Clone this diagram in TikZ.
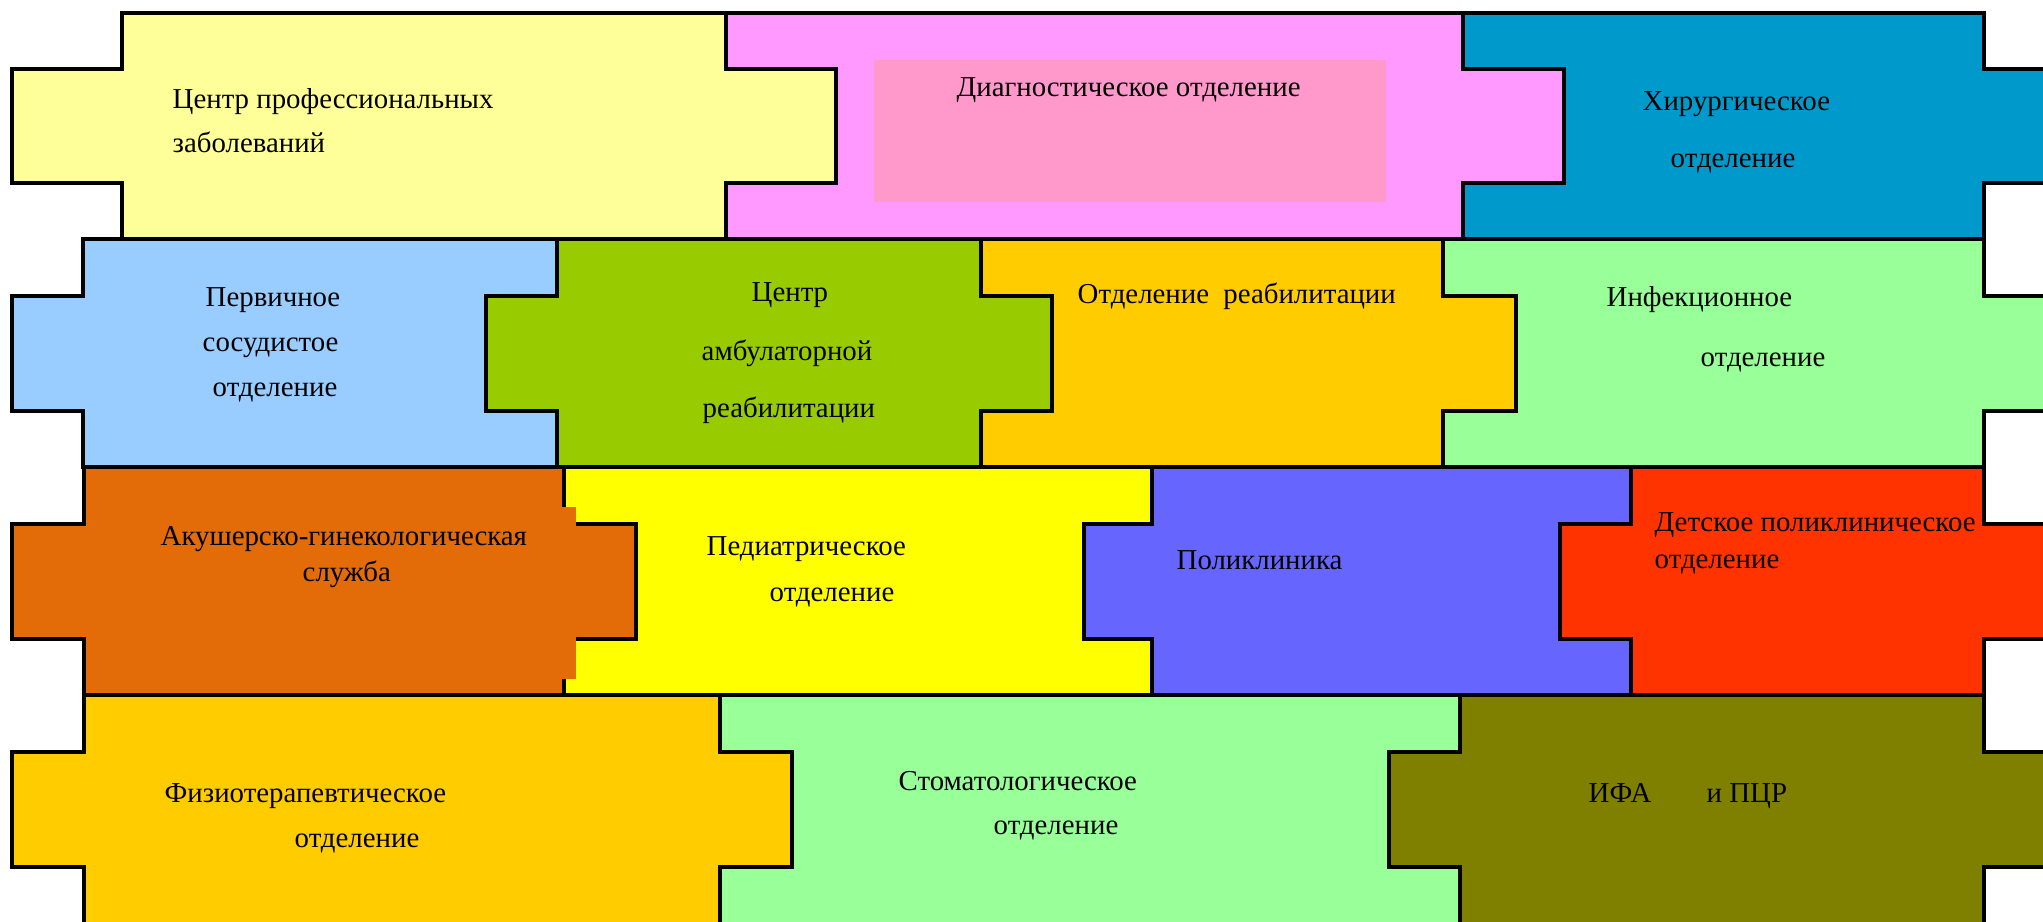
\documentclass[tikz,border=0pt]{standalone}
\usepackage{fontspec}
\setmainfont{Liberation Serif}
\usetikzlibrary{positioning}

\definecolor{profyellow}{HTML}{FFFF99}
\definecolor{diagpink}{HTML}{FF99FF}
\definecolor{diaginner}{HTML}{FF99CC}
\definecolor{surgblue}{HTML}{0099CC}
\definecolor{vascblue}{HTML}{99CCFF}
\definecolor{ambgreen}{HTML}{99CC00}
\definecolor{rehaborange}{HTML}{FFCC00}
\definecolor{infgreen}{HTML}{99FF99}
\definecolor{obstorange}{HTML}{E36C09}
\definecolor{pedyellow}{HTML}{FFFF00}
\definecolor{polyviolet}{HTML}{6666FF}
\definecolor{childred}{HTML}{FF3300}
\definecolor{labolive}{HTML}{808000}

\tikzset{
  piece/.style={draw=black, line width=1.3pt, line join=miter},
  lbl/.style={anchor=base west, inner sep=0pt, font=\fontsize{8.2}{10}\selectfont}
}

\begin{document}
\begin{tikzpicture}[x=0.01cm, y=-0.01cm]
\useasboundingbox (0,0) rectangle (2043,922);
\clip (0,0) rectangle (2043,922);
% row 1
\filldraw[piece, fill=profyellow](122,13) -- (726,13) -- (726,69) -- (836,69) -- (836,183) -- (726,183) -- (726,239) -- (122,239) -- (122,183) -- (12,183) -- (12,69) -- (122,69) -- cycle;
\filldraw[piece, fill=diagpink](726,13) -- (1463,13) -- (1463,69) -- (1564,69) -- (1564,183) -- (1463,183) -- (1463,239) -- (726,239) -- (726,183) -- (836,183) -- (836,69) -- (726,69) -- cycle;
\fill[diaginner](874,60) rectangle (1386,202);
\filldraw[piece, fill=surgblue](1463,13) -- (1984,13) -- (1984,69) -- (2100,69) -- (2100,183) -- (1984,183) -- (1984,239) -- (1463,239) -- (1463,183) -- (1564,183) -- (1564,69) -- (1463,69) -- cycle;
% row 2
\filldraw[piece, fill=vascblue](83,239) -- (557,239) -- (557,296) -- (486,296) -- (486,411) -- (557,411) -- (557,467) -- (83,467) -- (83,411) -- (12,411) -- (12,296) -- (83,296) -- cycle;
\filldraw[piece, fill=ambgreen](557,239) -- (981,239) -- (981,296) -- (1052,296) -- (1052,411) -- (981,411) -- (981,467) -- (557,467) -- (557,411) -- (486,411) -- (486,296) -- (557,296) -- cycle;
\filldraw[piece, fill=rehaborange](981,239) -- (1443,239) -- (1443,296) -- (1516,296) -- (1516,411) -- (1443,411) -- (1443,467) -- (981,467) -- (981,411) -- (1052,411) -- (1052,296) -- (981,296) -- cycle;
\filldraw[piece, fill=infgreen](1443,239) -- (1984,239) -- (1984,296) -- (2100,296) -- (2100,411) -- (1984,411) -- (1984,467) -- (1443,467) -- (1443,411) -- (1516,411) -- (1516,296) -- (1443,296) -- cycle;
% row 3
\filldraw[piece, fill=obstorange](84,467) -- (564,467) -- (564,524) -- (636,524) -- (636,639) -- (564,639) -- (564,695) -- (84,695) -- (84,639) -- (12,639) -- (12,524) -- (84,524) -- cycle;
\filldraw[piece, fill=pedyellow](564,467) -- (1152,467) -- (1152,524) -- (1084,524) -- (1084,639) -- (1152,639) -- (1152,695) -- (564,695) -- (564,639) -- (636,639) -- (636,524) -- (564,524) -- cycle;
\fill[obstorange](556,507) rectangle (576,679);
\filldraw[piece, fill=polyviolet](1152,467) -- (1631,467) -- (1631,524) -- (1560,524) -- (1560,639) -- (1631,639) -- (1631,695) -- (1152,695) -- (1152,639) -- (1084,639) -- (1084,524) -- (1152,524) -- cycle;
\filldraw[piece, fill=childred](1631,467) -- (1984,467) -- (1984,524) -- (2100,524) -- (2100,639) -- (1984,639) -- (1984,695) -- (1631,695) -- (1631,639) -- (1560,639) -- (1560,524) -- (1631,524) -- cycle;
% row 4
\filldraw[piece, fill=rehaborange](84,695) -- (720,695) -- (720,752) -- (792,752) -- (792,867) -- (720,867) -- (720,960) -- (84,960) -- (84,867) -- (12,867) -- (12,752) -- (84,752) -- cycle;
\filldraw[piece, fill=infgreen](720,695) -- (1460,695) -- (1460,752) -- (1389,752) -- (1389,867) -- (1460,867) -- (1460,960) -- (720,960) -- (720,867) -- (792,867) -- (792,752) -- (720,752) -- cycle;
\filldraw[piece, fill=labolive](1460,695) -- (1984,695) -- (1984,752) -- (2100,752) -- (2100,867) -- (1984,867) -- (1984,960) -- (1460,960) -- (1460,867) -- (1389,867) -- (1389,752) -- (1460,752) -- cycle;
% labels
\node[lbl] (prof1) at (172,109) {Центр профессиональных};
\node[lbl] (prof2) at (172,153) {заболеваний};
\node[lbl] (diag) at (956,97) {Диагностическое отделение};
\node[lbl] (surg1) at (1642,111) {Хирургическое};
\node[lbl] (surg2) at (1670,168) {отделение};
\node[lbl] (vasc1) at (205,307) {Первичное};
\node[lbl] (vasc2) at (202,352) {сосудистое};
\node[lbl] (vasc3) at (212,397) {отделение};
\node[lbl] (amb1) at (751,302) {Центр};
\node[lbl] (amb2) at (701,361) {амбулаторной};
\node[lbl] (amb3) at (702,418) {реабилитации};
\node[lbl] (rehab) at (1077,304) {Отделение\ \ реабилитации};
\node[lbl] (inf1) at (1606,307) {Инфекционное};
\node[lbl] (inf2) at (1700,367) {отделение};
\node[lbl] (obst1) at (160,545) {Акушерско-гинекологическая};
\node[lbl] (obst2) at (302,582) {служба};
\node[lbl] (ped1) at (706,556) {Педиатрическое};
\node[lbl] (ped2) at (769,601) {отделение};
\node[lbl] (poly) at (1176,570) {Поликлиника};
\node[lbl] (child1) at (1654,532) {Детское поликлиническое};
\node[lbl] (child2) at (1654,569) {отделение};
\node[lbl] (phys1) at (164,802) {Физиотерапевтическое};
\node[lbl] (phys2) at (294,847) {отделение};
\node[lbl] (dent1) at (898,790) {Стоматологическое};
\node[lbl] (dent2) at (993,834) {отделение};
\node[lbl] (lab1) at (1588,802) {ИФА};
\node[lbl] (lab2) at (1706,802) {и ПЦР};
\end{tikzpicture}
\end{document}
